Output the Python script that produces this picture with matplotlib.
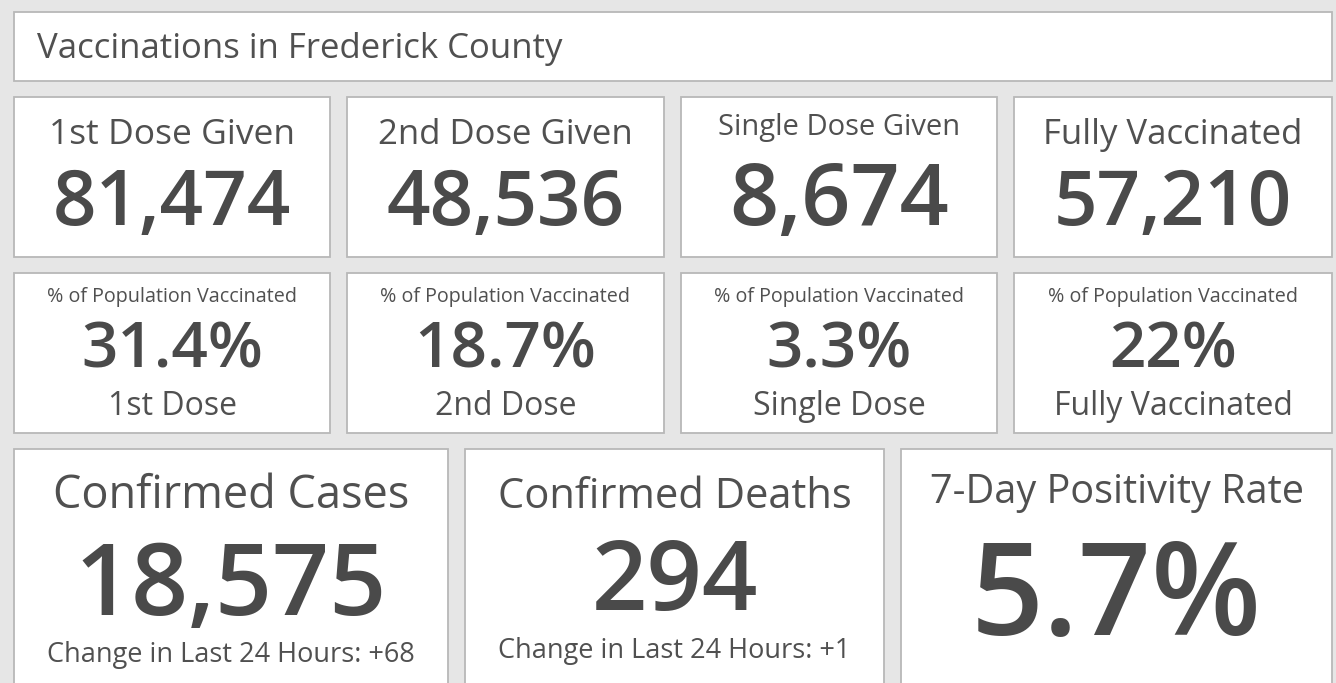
"""
Frederick County COVID dashboard - indicator cards redrawn with matplotlib.
Everything is laid out in pixel units on one full-figure axes (y down).
"""

import matplotlib
matplotlib.use("Agg")
import matplotlib.pyplot as plt
from matplotlib.patches import Rectangle

plt.rcParams["font.family"] = ["Open Sans", "DejaVu Sans"]

W, H = 1336, 683
BG      = "#e6e6e6"
CARD_BG = "#ffffff"
EDGE    = "#b8b8b8"
TXT     = "#505050"
VAL     = "#4a4a4a"

# ---- data -----------------------------------------------------------------
header_title = "Vaccinations in Frederick County"

dose_titles = ["1st Dose Given", "2nd Dose Given", "Single Dose Given", "Fully Vaccinated"]
dose_values = ["81,474", "48,536", "8,674", "57,210"]

pct_label  = "% of Population Vaccinated"
pct_values = ["31.4%", "18.7%", "3.3%", "22%"]
pct_subs   = ["1st Dose", "2nd Dose", "Single Dose", "Fully Vaccinated"]

case_titles = ["Confirmed Cases", "Confirmed Deaths", "7-Day Positivity Rate"]
case_values = ["18,575", "294", "5.7%"]
case_notes  = ["Change in Last 24 Hours: +68", "Change in Last 24 Hours: +1", ""]

# ---- layout (pixels) ------------------------------------------------------
four_x = [(14, 330), (347, 664), (681, 997), (1014, 1332)]
three_x = [(14, 448), (465, 884), (901, 1332)]

# font sizes (pt ~ cap height px at dpi 100) and baselines per card
dose_title_fs = [25.5, 25, 21, 25]
dose_title_y  = [144, 144, 135, 144]
dose_value_fs = [55, 55, 62, 55]
dose_value_y  = [225, 225, 225, 225]

case_title_fs = [32.5, 30, 28.5]
case_title_y  = [508, 508, 503]
case_value_fs = [72, 70, 92]
case_value_y  = [615, 610, 635]
case_note_fs  = [19.5, 19.5, 19.5]
case_note_y   = [662, 658, 658]

VAL_WEIGHT = "semibold"


def card(ax, x0, x1, y0, y1):
    ax.add_patch(Rectangle((x0, y0), x1 - x0, y1 - y0, facecolor=CARD_BG,
                           edgecolor=EDGE, linewidth=1.3, zorder=1))


fig = plt.figure(figsize=(W / 100, H / 100), dpi=100, facecolor=BG)
ax = fig.add_axes([0, 0, 1, 1])
ax.set_xlim(0, W)
ax.set_ylim(H, 0)
ax.axis("off")
ax.set_facecolor(BG)

# header
card(ax, 14, 1332, 12, 81)
ax.text(37, 58, header_title, fontsize=25, color=TXT, ha="left", va="baseline", zorder=2)

# row 1: dose counts
for i, (x0, x1) in enumerate(four_x):
    card(ax, x0, x1, 97, 257)
    cx = (x0 + x1) / 2
    ax.text(cx, dose_title_y[i], dose_titles[i], fontsize=dose_title_fs[i], color=TXT,
            ha="center", va="baseline", zorder=2)
    ax.text(cx, dose_value_y[i], dose_values[i], fontsize=dose_value_fs[i], color=VAL,
            fontweight=VAL_WEIGHT, ha="center", va="baseline", zorder=2)

# row 2: percentages
for i, (x0, x1) in enumerate(four_x):
    card(ax, x0, x1, 273, 433)
    cx = (x0 + x1) / 2
    ax.text(cx, 302, pct_label, fontsize=14.2, color=TXT, ha="center", va="baseline", zorder=2)
    ax.text(cx, 368, pct_values[i], fontsize=46, color=VAL, fontweight=VAL_WEIGHT,
            ha="center", va="baseline", zorder=2)
    ax.text(cx, 415, pct_subs[i], fontsize=23, color=TXT, ha="center", va="baseline", zorder=2)

# row 3: cases / deaths / positivity
for i, (x0, x1) in enumerate(three_x):
    card(ax, x0, x1, 449, 700)
    cx = (x0 + x1) / 2
    ax.text(cx, case_title_y[i], case_titles[i], fontsize=case_title_fs[i], color=TXT,
            ha="center", va="baseline", zorder=2)
    ax.text(cx, case_value_y[i], case_values[i], fontsize=case_value_fs[i], color=VAL,
            fontweight=VAL_WEIGHT, ha="center", va="baseline", zorder=2)
    if case_notes[i]:
        ax.text(cx, case_note_y[i], case_notes[i], fontsize=case_note_fs[i], color=TXT,
                ha="center", va="baseline", zorder=2)

fig.savefig("out.png", dpi=100, facecolor=BG)
